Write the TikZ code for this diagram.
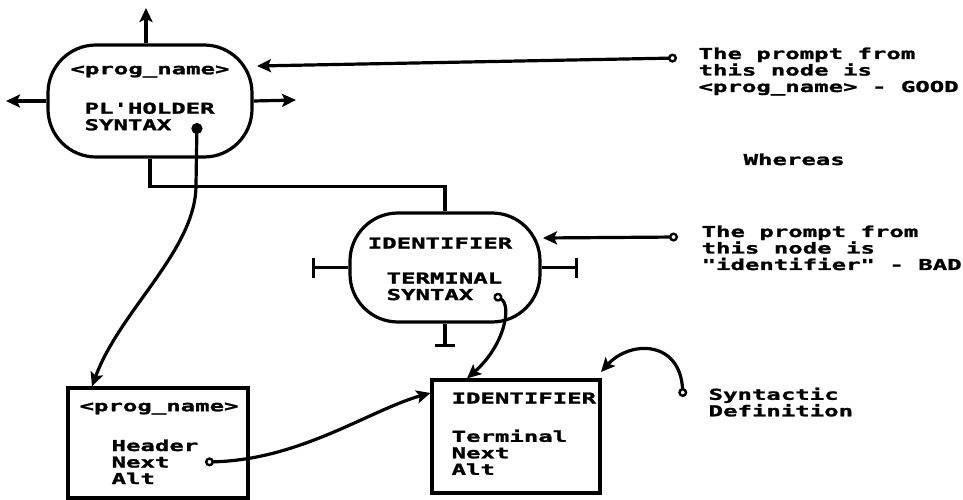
\documentclass[tikz,border=0pt]{standalone}
\usepackage{fontspec}
\newfontfamily\dm{DejaVu Sans Mono}[FakeStretch=1.6,FakeBold=1.6]
\usetikzlibrary{arrows.meta}
\begin{document}
\begin{tikzpicture}[x=1pt,y=-1pt,line width=3.2pt,
  oval/.style={draw,rounded corners=48pt,inner sep=0pt},
  box/.style={draw,inner sep=0pt},
  txt/.style={inner sep=0pt,anchor=north west,align=left,font=\dm\bfseries\fontsize{15}{16.5}\selectfont},
  ctxt/.style={txt,anchor=north},
  arr/.style={-{Stealth[length=14pt,width=13pt,inset=3pt]}},
  tee/.style={-{Bar[width=20pt]}},
  oarr/.style={{Circle[open,length=9pt,width=9pt,line width=2.4pt]}-{Stealth[length=14pt,width=13pt,inset=3pt]}},
  darr/.style={{Circle[length=11pt,width=11pt]}-{Stealth[length=14pt,width=13pt,inset=3pt]}}]
\useasboundingbox (0,0) rectangle (963,500);

% top oval
\node[oval,minimum width=204pt,minimum height=112pt] (top) at (150,101) {};
\node[ctxt] (topname) at (150,64) {<prog\_name>};
\node[txt] (topsyn) at (83,101) {PL'HOLDER\\SYNTAX};
\coordinate (topdot) at (197,123);
\coordinate (topin) at (257,66);
\draw[arr] (top.north -| 146,0) -- (146,8);
\draw[arr] (top.west) -- (6,101);
\draw[arr] (top.east) -- (296,100);

% identifier oval
\node[oval,minimum width=190pt,minimum height=109pt] (ident) at (445,267.5) {};
\node[ctxt] (idname) at (440,236) {IDENTIFIER};
\node[txt] (idsyn) at (385,271) {TERMINAL\\SYNTAX};
\coordinate (iddot) at (494,295);
\coordinate (idin) at (543,238);
\draw[tee] (ident.west) -- (312,267.5);
\draw[tee] (ident.east) -- (578,267.5);
\draw[tee] (ident.south) -- (445,347);

% connector between ovals
\draw (top.south) -- ++(0,28) -| (ident.north);

% right-hand notes
\node[txt] (note1) at (697,46) {The prompt from\\this node is\\<prog\_name> - GOOD};
\coordinate (n1) at (677,58);
\draw[oarr] (n1) -- (topin);
\node[txt] (whereas) at (742,152) {Whereas};
\node[txt] (note2) at (700,224) {The prompt from\\this node is\\"identifier" - BAD};
\coordinate (n2) at (678,237);
\draw[oarr] (n2) -- (idin);

% bottom-left box
\node[box,minimum width=180pt,minimum height=110pt] (box1) at (158,443) {};
\node[txt] (b1name) at (78,401) {<prog\_name>};
\node[txt] (b1f) at (110,438) {Header\\Next\\Alt};
\coordinate (b1next) at (205,462);

% identifier box
\node[box,minimum width=168pt,minimum height=113pt] (box2) at (516,436.5) {};
\node[txt] (b2name) at (450,391) {IDENTIFIER};
\node[txt] (b2f) at (450,428) {Terminal\\Next\\Alt};

% syntactic definition
\node[txt] (syn) at (707,386) {Syntactic\\Definition};
\coordinate (sd) at (683,397);
\coordinate (sdin) at (601,372);

% curves
\draw[darr] (topdot) -- (196,185) .. controls (196,250) and (120,310) .. (box1.north west -| 92,0);
\draw[oarr] (iddot) .. controls (512,305) and (505,345) .. (box2.north west -| 467,0);
\draw[oarr] (b1next) .. controls (300,460) and (370,410) .. (box2.west |- 0,393);
\draw[oarr] (sd) .. controls (680,340) and (630,340) .. (sdin);
\end{tikzpicture}
\end{document}
